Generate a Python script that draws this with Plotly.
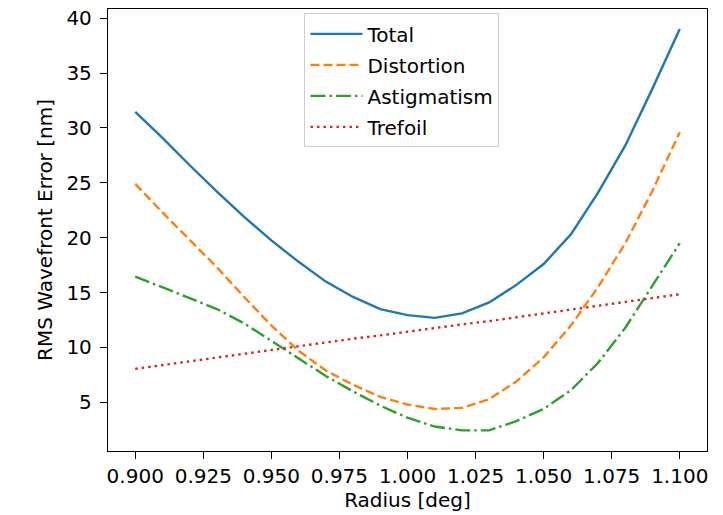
import plotly.graph_objects as go

radius = [0.90, 0.91, 0.92, 0.93, 0.94, 0.95, 0.96, 0.97, 0.98, 0.99, 1.00,
          1.01, 1.02, 1.03, 1.04, 1.05, 1.06, 1.07, 1.08, 1.09, 1.10]

total = [31.45, 29.1, 26.6, 24.2, 21.9, 19.75, 17.8, 16.0, 14.6, 13.5, 12.95,
         12.7, 13.1, 14.1, 15.7, 17.6, 20.3, 24.1, 28.4, 33.6, 39.0]
distortion = [24.9, 22.3, 19.8, 17.3, 14.6, 12.0, 9.7, 7.9, 6.6, 5.5, 4.8,
              4.4, 4.5, 5.3, 6.9, 9.1, 12.0, 15.5, 19.5, 24.3, 29.6]
astigmatism = [16.45, 15.5, 14.5, 13.5, 12.2, 10.6, 9.0, 7.4, 6.0, 4.7, 3.6,
               2.8, 2.45, 2.45, 3.3, 4.4, 6.1, 8.6, 11.8, 15.65, 19.5]
trefoil = [8.05, 8.4, 8.75, 9.1, 9.4, 9.75, 10.1, 10.45, 10.8, 11.1, 11.45,
           11.75, 12.1, 12.4, 12.75, 13.05, 13.4, 13.75, 14.1, 14.5, 14.85]

x_ticks = [0.900, 0.925, 0.950, 0.975, 1.000, 1.025, 1.050, 1.075, 1.100]
y_ticks = [5, 10, 15, 20, 25, 30, 35, 40]

FONT = "DejaVu Sans"
FS = 20
LW = 2.4

fig = go.Figure()
fig.add_trace(go.Scatter(x=radius, y=total, mode="lines", name="Total", legendgroup="a",
                         line=dict(color="#1f77b4", width=LW)))
fig.add_trace(go.Scatter(x=radius, y=distortion, mode="lines", name="Distortion", legendgroup="b",
                         line=dict(color="#ff7f0e", width=LW, dash="9px,4px")))
fig.add_trace(go.Scatter(x=radius, y=astigmatism, mode="lines", name="Astigmatism", legendgroup="c",
                         line=dict(color="#2ca02c", width=LW, dash="15px,4px,2.5px,4px")))
fig.add_trace(go.Scatter(x=radius, y=trefoil, mode="lines", name="Trefoil", legendgroup="d",
                         line=dict(color="#d62728", width=LW, dash="2.5px,4px")))

axis_common = dict(
    showline=True, mirror=True, linecolor="black", linewidth=1.3,
    ticks="outside", ticklen=7, tickwidth=1.3, tickcolor="black",
    showgrid=False, zeroline=False,
    tickfont=dict(family=FONT, size=FS, color="black"),
)

fig.update_layout(
    width=723, height=515,
    margin=dict(l=108, r=16, t=6, b=64),
    paper_bgcolor="white", plot_bgcolor="white",
    font=dict(family=FONT, size=FS, color="black"),
    xaxis=dict(range=[0.89, 1.11], tickvals=x_ticks,
               ticktext=[f"{v:.3f}" for v in x_ticks],
               title=dict(text="Radius [deg]", font=dict(family=FONT, size=FS), standoff=4),
               **axis_common),
    yaxis=dict(range=[0.57, 40.83], tickvals=y_ticks, ticklabelstandoff=4,
               title=dict(text="RMS Wavefront Error [nm]", font=dict(family=FONT, size=FS), standoff=8),
               **axis_common),
    legend=dict(x=0.328, y=0.99, xanchor="left", yanchor="top",
                bgcolor="rgba(255,255,255,0.8)", bordercolor="#cccccc", borderwidth=1,
                font=dict(family=FONT, size=FS, color="black"),
                itemwidth=52, tracegroupgap=2),
    showlegend=True,
)

fig.write_html("out.html")
